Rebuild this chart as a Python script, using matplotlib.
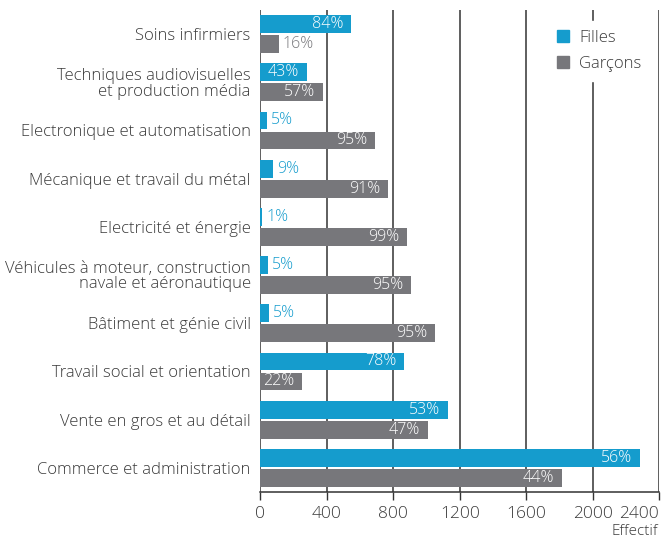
import numpy as np
import matplotlib
matplotlib.use("Agg")
import matplotlib.pyplot as plt
from matplotlib.patches import Patch

plt.rcParams['font.family'] = ['Open Sans', 'DejaVu Sans']
plt.rcParams['font.weight'] = 'light'

# Données
categories = ["Soins infirmiers",
              "Techniques audiovisuelles\net production média",
              "Electronique et automatisation",
              "Mécanique et travail du métal",
              "Electricité et énergie",
              "Véhicules à moteur, construction\nnavale et aéronautique",
              "Bâtiment et génie civil",
              "Travail social et orientation",
              "Vente en gros et au détail",
              "Commerce et administration"]
filles = [544, 279, 38, 74, 12, 44, 50, 863, 1128, 2284]
garcons = [110, 375, 688, 766, 881, 905, 1050, 250, 1008, 1814]
pct_filles = ["84%", "43%", "5%", "9%", "1%", "5%", "5%", "78%", "53%", "56%"]
pct_garcons = ["16%", "57%", "95%", "91%", "99%", "95%", "95%", "22%", "47%", "44%"]
x_ticks = [0, 400, 800, 1200, 1600, 2000, 2400]

BLUE = "#159ccd"
GREY = "#77777b"
TEXT = "#3a3a3a"

fig = plt.figure(figsize=(6.61, 5.41), dpi=100)
ax = fig.add_axes([0.394, 0.0906, 0.603, 0.891])

y = np.arange(len(categories))
h = 0.37
off = 0.207
ax.barh(y - off, filles, height=h, color=BLUE, zorder=3)
ax.barh(y + off, garcons, height=h, color=GREY, zorder=3)

# Etiquettes en pourcentage
for yi, v, lab in zip(y - off, filles, pct_filles):
    if v > 180:
        ax.text(v - 45, yi, lab, color="white", ha="right", va="center", fontsize=11.5, zorder=4)
    else:
        ax.text(v + 25, yi, lab, color=BLUE, ha="left", va="center", fontsize=11.5, zorder=4)
for yi, v, lab in zip(y + off, garcons, pct_garcons):
    if v > 180:
        ax.text(v - 45, yi, lab, color="white", ha="right", va="center", fontsize=11.5, zorder=4)
    else:
        ax.text(v + 25, yi, lab, color=GREY, ha="left", va="center", fontsize=11.5, zorder=4)

ax.set_xlim(0, 2400)
ax.set_ylim(len(categories) - 0.5, -0.5)
ax.set_yticks(y)
ax.set_yticklabels(categories, fontsize=12, color=TEXT, linespacing=0.95)
ax.tick_params(axis='y', length=0, pad=7)
ax.set_xticks(x_ticks)
ax.tick_params(axis='x', length=6, width=1, color="#333333", pad=4,
               labelsize=12.5, labelcolor=TEXT)
ax.set_xticklabels([str(t) for t in x_ticks])
ax.get_xticklabels()[-1].set_horizontalalignment("right")

for t in x_ticks:
    ax.axvline(t, color="#333333", linewidth=1.1, zorder=1)
for s in ["top", "right", "left"]:
    ax.spines[s].set_visible(False)
ax.spines["bottom"].set_color("#333333")
ax.spines["bottom"].set_linewidth(1.1)

fig.text(0.995, 0.004, "Effectif", ha="right", va="bottom", fontsize=11, color=TEXT)

handles = [Patch(color=BLUE, label="Filles"), Patch(color=GREY, label="Garçons")]
leg = ax.legend(handles=handles, loc="upper right", bbox_to_anchor=(1.0, 0.995),
                frameon=True, fontsize=12, handlelength=0.75, handleheight=0.75,
                labelspacing=0.6, borderpad=0.55, handletextpad=0.6, fancybox=False)
leg.get_frame().set_edgecolor("white")
leg.get_frame().set_facecolor("white")
leg.get_frame().set_alpha(1)
for txt in leg.get_texts():
    txt.set_color(TEXT)
leg.set_zorder(5)

fig.savefig("out.png", dpi=100)
